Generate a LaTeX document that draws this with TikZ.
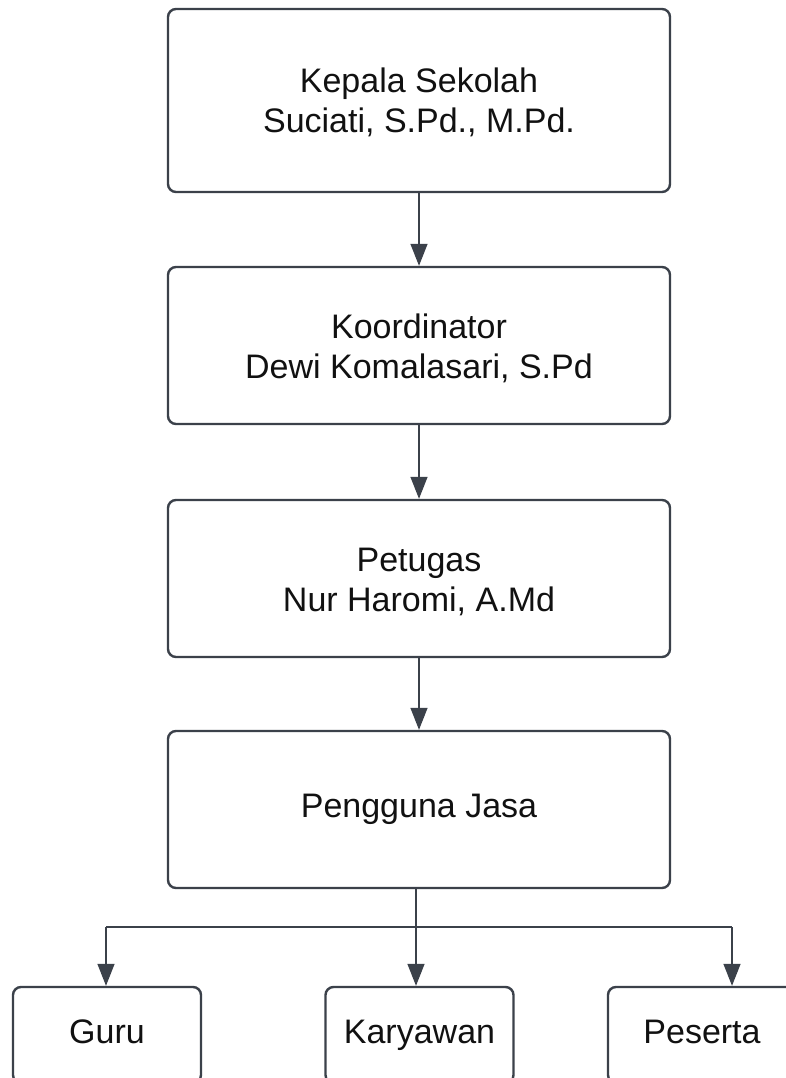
\documentclass[tikz,border=0pt]{standalone}
\usepackage{fontspec}
\setmainfont{Liberation Sans}
\usetikzlibrary{arrows.meta}
\definecolor{lineclr}{HTML}{3B414A}
\definecolor{txtclr}{HTML}{111111}
\begin{document}
\begin{tikzpicture}[x=1pt,y=-1pt,
  box/.style={draw=lineclr, line width=2.4pt, rounded corners=8pt, fill=white,
    text=txtclr, align=center, minimum width=502pt, inner sep=0pt,
    text height=72pt, text depth=7pt,
    font=\fontsize{34}{40}\selectfont},
  oneline/.style={text height=25pt, text depth=9pt},
  small/.style={box, oneline, minimum width=188pt, minimum height=96pt},
  conn/.style={draw=lineclr, line width=1.4pt},
  arr/.style={conn, -{Triangle[width=17pt,length=22pt]}}
]
\clip (0,0) rectangle (786,1078);
\fill[white] (0,0) rectangle (786,1078);

\node[box, minimum height=183pt] (k1) at (419,100.5) {Kepala Sekolah\\Suciati, S.Pd., M.Pd.};
\node[box, minimum height=157pt] (k2) at (419,345.5) {Koordinator\\Dewi Komalasari, S.Pd};
\node[box, minimum height=157pt] (k3) at (419,578.5) {Petugas\\Nur Haromi, A.Md};
\node[box, oneline, minimum height=157pt] (k4) at (419,809.5) {Pengguna Jasa};

\node[small] (guru) at (107,1035) {Guru};
\node[small] (kar) at (419.5,1035) {Karyawan};
\node[small] (pes) at (702,1035) {Peserta};

\draw[arr] (k1.south) -- (k2.north);
\draw[arr] (k2.south) -- (k3.north);
\draw[arr] (k3.south) -- (k4.north);

\coordinate (j) at (416,927);
\coordinate (jl) at (106,927);
\coordinate (jr) at (732,927);
\draw[conn] (k4.south -| j) -- (j);
\draw[conn] (jl) -- (jr);
\draw[arr] (j) -- (j |- kar.north);
\draw[arr] (jl) -- (jl |- guru.north);
\draw[arr] (jr) -- (jr |- pes.north);
\end{tikzpicture}
\end{document}
